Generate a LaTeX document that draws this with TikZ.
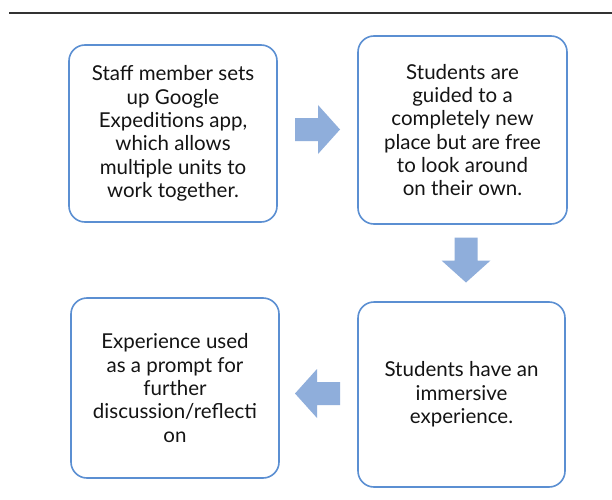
\documentclass[tikz,border=0pt]{standalone}
\usepackage{fontspec}
\setmainfont{Lato}
\definecolor{boxblue}{HTML}{5B8FD2}
\definecolor{arrowblue}{HTML}{8FAEDB}
\definecolor{txt}{HTML}{141414}
\begin{document}
\begin{tikzpicture}[x=1pt,y=1pt,
  stepbox/.style={draw=boxblue, line width=1.6pt, fill=white, rounded corners=16pt,
    align=center, text=txt, font=\fontsize{20.5}{23.3}\selectfont, inner sep=0pt},
  blockarrow/.pic={\fill[arrowblue] (-22.5,-11.5) -- (0.5,-11.5) -- (0.5,-24.5) -- (22.5,0)
     -- (0.5,24.5) -- (0.5,11.5) -- (-22.5,11.5) -- cycle;}
]
\useasboundingbox (0,0) rectangle (612,499);
\fill[white] (0,0) rectangle (612,499);
\draw[line width=1.4pt, color=black!80] (9,486) -- (612,486);

\node[stepbox, minimum width=208pt, minimum height=177pt] (b1) at (173,365.5)
  {Staff member sets\\ up Google\\ Expeditions app,\\ which allows\\ multiple units to\\ work together.};
\node[stepbox, minimum width=209pt, minimum height=188pt] (b2) at (462.5,369)
  {Students are\\ guided to a\\ completely new\\ place but are free\\ to look around\\ on their own.};
\node[stepbox, minimum width=207pt, minimum height=185pt] (b3) at (461.5,104.5)
  {Students have an\\ immersive\\ experience.};
\node[stepbox, minimum width=208pt, minimum height=180pt] (b4) at (175,111)
  {Experience used\\ as a prompt for\\ further\\ discussion/reflecti\\ on};

\pic at (317.5,369.5) {blockarrow};
\pic[rotate=-90] at (466,239) {blockarrow};
\pic[rotate=180] at (317.5,105.5) {blockarrow};
\end{tikzpicture}
\end{document}
